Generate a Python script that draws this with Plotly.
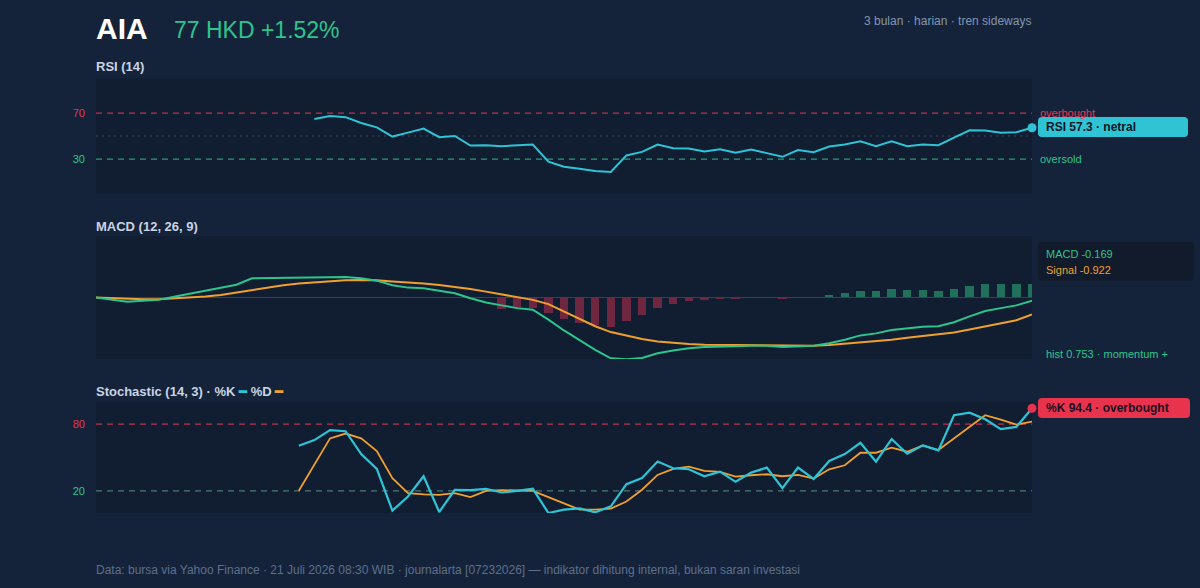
import plotly.graph_objects as go

# ---------------- data ----------------
N = 61
x_idx = list(range(N))

rsi_start = 14
rsi_vals = [64.8, 67.4, 66.5, 61.4, 57.6, 49.6, 53.0, 56.5, 49.0, 50.1,
            41.8, 42.1, 41.2, 41.8, 42.7, 27.7, 23.4, 21.7, 19.6, 18.8,
            33.2, 36.3, 42.7, 39.5, 39.2, 36.6, 38.6, 35.5, 38.3, 35.2,
            32.0, 37.8, 36.0, 40.9, 42.7, 45.5, 41.2, 45.5, 41.2, 42.7,
            42.1, 48.7, 55.0, 54.8, 53.0, 53.3, 57.3]

macd_vals = [0.0, -0.13, -0.23, -0.18, -0.13, 0.04, 0.20, 0.36, 0.50, 0.70,
             1.05, 1.06, 1.06, 1.05, 1.06, 1.10, 1.12, 1.05, 0.92, 0.67,
             0.54, 0.50, 0.36, 0.23, -0.04, -0.27, -0.43, -0.58, -0.67, -1.21,
             -1.80, -2.34, -2.86, -3.32, -3.37, -3.30, -3.05, -2.90, -2.77, -2.70,
             -2.70, -2.67, -2.63, -2.63, -2.70, -2.67, -2.63, -2.50, -2.31, -2.07,
             -1.96, -1.77, -1.68, -1.60, -1.57, -1.35, -1.03, -0.74, -0.58, -0.43,
             -0.169]
signal_vals = [0.0, -0.04, -0.07, -0.09, -0.09, -0.05, 0.0, 0.05, 0.14, 0.27,
               0.43, 0.56, 0.67, 0.76, 0.83, 0.90, 0.94, 0.95, 0.94, 0.88,
               0.83, 0.77, 0.68, 0.59, 0.47, 0.32, 0.18, 0.02, -0.13, -0.36,
               -0.76, -1.15, -1.57, -1.89, -2.08, -2.27, -2.41, -2.49, -2.54, -2.58,
               -2.59, -2.61, -2.61, -2.63, -2.65, -2.65, -2.63, -2.59, -2.52, -2.47,
               -2.40, -2.31, -2.20, -2.11, -2.04, -1.91, -1.75, -1.57, -1.41, -1.24,
               -0.922]
hist_start = 26
hist_vals = [-0.61, -0.52, -0.56, -0.86, -1.15, -1.37, -1.51, -1.59, -1.30, -0.97,
             -0.59, -0.38, -0.20, -0.14, -0.05, -0.04, 0.01, 0.0, -0.05, -0.02,
             0.01, 0.13, 0.25, 0.38, 0.38, 0.45, 0.40, 0.40, 0.36, 0.45,
             0.65, 0.74, 0.72, 0.72, 0.753]

stoch_start = 13
k_vals = [60.6, 65.7, 74.6, 73.7, 53.1, 39.7, 2.1, 14.9, 33.1, 0.9,
          20.9, 20.6, 21.8, 18.5, 20.0, 21.8, 0.0, 3.0, 4.2, 0.6,
          6.0, 26.0, 31.5, 46.3, 40.3, 39.4, 33.1, 37.3, 28.1, 36.4,
          40.9, 22.4, 40.9, 30.7, 46.9, 53.1, 63.3, 46.3, 66.6, 53.4,
          60.9, 56.4, 88.1, 90.4, 84.5, 75.5, 77.6, 94.4]
d_vals = [20.0, 43.3, 67.2, 71.6, 67.2, 55.8, 31.3, 17.9, 16.7, 16.4,
          17.9, 14.3, 20.0, 20.6, 20.3, 20.0, 14.3, 9.0, 3.0, 3.0,
          3.9, 10.4, 21.0, 34.3, 39.7, 41.8, 37.9, 37.0, 32.8, 34.0,
          34.9, 33.1, 34.3, 31.0, 39.4, 43.0, 54.3, 54.3, 58.8, 55.2,
          60.9, 56.7, 67.2, 77.6, 88.1, 84.2, 79.7, 82.4]

rsi_levels = [30, 50, 70]
stoch_levels = [20, 80]

# ---------------- styling ----------------
W, H = 1200, 588
PAPER = "#15233a"
PLOT = "#111e31"
CYAN = "#2ec4d6"
GREEN = "#2ec48d"
ORANGE = "#f0a02e"
RED = "#e8334f"
RED_LINE = "#c0304b"
GREEN_LINE = "#2a9a78"
TXT = "#c9d4e4"
MUTED = "#8395b0"
FONT = "Liberation Sans, Arial, sans-serif"
DASH = "6px,5px"


def px_x(p):
    return p / W


def px_y(p):
    return 1 - p / H


x0, x1 = px_x(96), px_x(1032)
dom_rsi = [px_y(193.6), px_y(78.6)]
dom_macd = [px_y(359), px_y(236)]
dom_sto = [px_y(513), px_y(402)]

fig = go.Figure()


def hline(level, color, dash, xa, ya, width=1.2):
    fig.add_trace(go.Scatter(x=[0, N - 1], y=[level, level], mode="lines",
                             line=dict(color=color, width=width, dash=dash),
                             xaxis=xa, yaxis=ya, hoverinfo="skip"))


# RSI
hline(rsi_levels[2], RED_LINE, DASH, "x", "y")
hline(rsi_levels[1], "#2f3d54", "2px,4px", "x", "y", width=1.5)
hline(rsi_levels[0], GREEN_LINE, DASH, "x", "y")
rsi_x = x_idx[rsi_start:]
fig.add_trace(go.Scatter(x=rsi_x, y=rsi_vals, mode="lines",
                         line=dict(color=CYAN, width=2), xaxis="x", yaxis="y",
                         hoverinfo="skip"))
fig.add_trace(go.Scatter(x=[rsi_x[-1]], y=[rsi_vals[-1]], mode="markers",
                         marker=dict(color=CYAN, size=9), cliponaxis=False,
                         xaxis="x", yaxis="y", hoverinfo="skip"))

# MACD
hline(0, "#334259", "solid", "x2", "y2")
hist_x = x_idx[hist_start:]
fig.add_trace(go.Bar(x=hist_x, y=hist_vals, width=0.55,
                     marker=dict(color=["#21705c" if v >= 0 else "#6e2641" for v in hist_vals],
                                 line=dict(width=0)),
                     xaxis="x2", yaxis="y2", hoverinfo="skip"))
fig.add_trace(go.Scatter(x=x_idx, y=signal_vals, mode="lines",
                         line=dict(color=ORANGE, width=2), xaxis="x2", yaxis="y2",
                         hoverinfo="skip"))
fig.add_trace(go.Scatter(x=x_idx, y=macd_vals, mode="lines",
                         line=dict(color=GREEN, width=2), xaxis="x2", yaxis="y2",
                         hoverinfo="skip"))

# Stochastic
hline(stoch_levels[1], RED_LINE, DASH, "x3", "y3")
hline(stoch_levels[0], "#4a7a72", DASH, "x3", "y3")
st_x = x_idx[stoch_start:]
fig.add_trace(go.Scatter(x=st_x, y=d_vals, mode="lines",
                         line=dict(color=ORANGE, width=1.8), xaxis="x3", yaxis="y3",
                         hoverinfo="skip"))
fig.add_trace(go.Scatter(x=st_x, y=k_vals, mode="lines",
                         line=dict(color=CYAN, width=2.2), xaxis="x3", yaxis="y3",
                         hoverinfo="skip"))
fig.add_trace(go.Scatter(x=[st_x[-1]], y=[k_vals[-1]], mode="markers",
                         marker=dict(color=RED, size=9), cliponaxis=False,
                         xaxis="x3", yaxis="y3", hoverinfo="skip"))


# rounded label boxes (paper coords)
def rbox(xl, yt, xr, yb, fill, r=4):
    rx, ry = r / W, r / H
    L, R, T, B = px_x(xl), px_x(xr), px_y(yt), px_y(yb)
    path = (f"M {L+rx},{T} L {R-rx},{T} Q {R},{T} {R},{T-ry} "
            f"L {R},{B+ry} Q {R},{B} {R-rx},{B} L {L+rx},{B} "
            f"Q {L},{B} {L},{B+ry} L {L},{T-ry} Q {L},{T} {L+rx},{T} Z")
    return dict(type="path", xref="paper", yref="paper", path=path,
                fillcolor=fill, line=dict(width=0), layer="above")


shapes = [
    rbox(1038, 117, 1188, 137, CYAN),
    rbox(1038, 242, 1194, 281, "#111b2b", r=5),
    rbox(1038, 398, 1190, 418, RED),
]


def tt(vals, colors):
    return [f"<span style='color:{c}'>{v}</span>" for v, c in zip(vals, colors)]


ann = []


def txt(x, y, text, size=12, color=TXT, bold=False, xanchor="left", yanchor="middle", **kw):
    t = f"<b>{text}</b>" if bold else text
    d = dict(xref="paper", yref="paper", x=px_x(x), y=px_y(y), text=t, showarrow=False,
             xanchor=xanchor, yanchor=yanchor, borderpad=0,
             font=dict(size=size, color=color, family=FONT))
    d.update(kw)
    ann.append(d)


txt(95, 28, "AIA", size=30, color="#ffffff", bold=True)
txt(173, 30, "77 HKD +1.52%", size=23, color=GREEN)
txt(1032, 21, "3 bulan · harian · tren sideways", size=12, color=MUTED, xanchor="right")

txt(95, 67, "RSI (14)", size=13, bold=True)
txt(95, 226, "MACD (12, 26, 9)", size=13, bold=True)
txt(95, 391, f"Stochastic (14, 3) · %K <span style='color:{CYAN}'>━</span> %D <span style='color:{ORANGE}'>━</span>",
    size=13, bold=True)

txt(1039, 113, "overbought", size=11, color=RED)
txt(1039, 159, "oversold", size=11, color=GREEN)
txt(1045, 127, "RSI 57.3 · netral", size=12, color="#0d1726", bold=True)

txt(1045, 254, "MACD -0.169", size=11, color=GREEN)
txt(1045, 270, "Signal -0.922", size=11, color=ORANGE)
txt(1045, 354, "hist 0.753 · momentum +", size=11, color=GREEN)

txt(1045, 408, "%K 94.4 · overbought", size=12, color="#1a1020", bold=True)

txt(95, 570, "Data: bursa via Yahoo Finance · 21 Juli 2026 08:30 WIB · journalarta [07232026] — indikator dihitung internal, bukan saran investasi",
    size=12, color="#5d6f8c")

xcommon = dict(range=[0, N - 1], showgrid=False, zeroline=False, showticklabels=False,
               showline=False, ticks="", fixedrange=True)
ybase = dict(showgrid=False, zeroline=False, showline=False, ticks="", fixedrange=True)

fig.update_layout(
    width=W, height=H,
    margin=dict(l=0, r=0, t=0, b=0),
    paper_bgcolor=PAPER, plot_bgcolor=PLOT,
    showlegend=False, bargap=0,
    font=dict(family=FONT, color=TXT),
    xaxis=dict(domain=[x0, x1], anchor="y", **xcommon),
    xaxis2=dict(domain=[x0, x1], anchor="y2", **xcommon),
    xaxis3=dict(domain=[x0, x1], anchor="y3", **xcommon),
    yaxis=dict(domain=dom_rsi, anchor="x", range=[0, 100], tickvals=[30, 70],
               ticktext=tt([30, 70], [GREEN, RED]), tickfont=dict(size=11, family=FONT),
               ticklabelstandoff=10, **ybase),
    yaxis2=dict(domain=dom_macd, anchor="x2", range=[-3.36, 3.36], showticklabels=False, **ybase),
    yaxis3=dict(domain=dom_sto, anchor="x3", range=[0, 100], tickvals=[20, 80],
                ticktext=tt([20, 80], [GREEN, RED]), tickfont=dict(size=11, family=FONT),
                ticklabelstandoff=10, **ybase),
    shapes=shapes, annotations=ann,
)

fig.write_html("out.html")
